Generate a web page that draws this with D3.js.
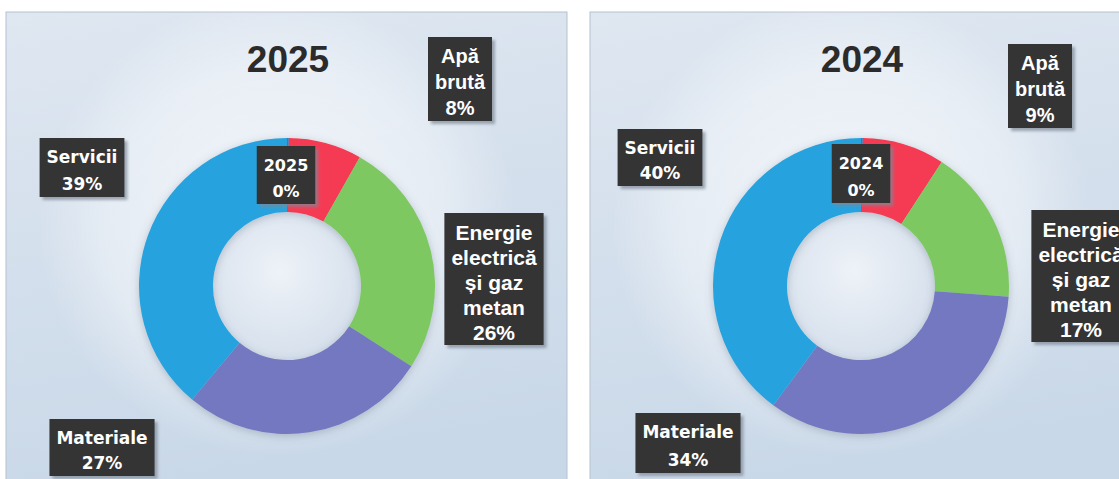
<!DOCTYPE html>
<html>
<head>
<meta charset="utf-8">
<script src="https://cdn.jsdelivr.net/npm/d3@7/dist/d3.min.js"></script>
<style>
  html, body { margin: 0; padding: 0; background: #ffffff; }
  svg { display: block; }
</style>
</head>
<body>
<svg id="chart" width="1119" height="479"></svg>
<script>
// ---------- DATA ----------
const years = ["2025", "2024"];
const categories = ["Apă brută", "Energie electrică și gaz metan", "Materiale", "Servicii"];
const categoryLines = [["Apă", "brută"], ["Energie", "electrică", "și gaz", "metan"], ["Materiale"], ["Servicii"]];
// first slice is the near-zero "year" slice shown as "0%"
const values2025 = [0.2, 8, 26, 27, 39];
const values2024 = [0.2, 9, 17, 34, 40];
const sliceColors = ["#2f7ebf", "#f53a52", "#7ec862", "#7378c0", "#26a3de"];

// ---------- LAYOUT (not data) ----------
const W = 1119, H = 479;
const panels = [
  { x: 6, y: 12, w: 561, h: 480, cx: 287, cy: 286, titleY: 72 },
  { x: 590, y: 12, w: 540, h: 480, cx: 861, cy: 286, titleY: 72 }
];
const R = 148, r = 74;
// label placement offsets relative to donut centre: [dx, firstLineDy, lineHeight]
const labelLayout = [
  [ [-1, -121, 26], [173, -230, 26], [207, -54, 25], [-185, 152, 25], [-205, -129, 27] ],
  [ [0, -123, 27], [179, -223, 26], [220, -57, 25], [-173, 146, 28], [-201, -138, 25] ]
];
const labelFont = [
  { fam: "'DejaVu Sans', Verdana, sans-serif", size: 16 },
  { fam: "'Liberation Sans', Arial, sans-serif", size: 20 },
  { fam: "'Liberation Sans', Arial, sans-serif", size: 21 },
  { fam: "'DejaVu Sans', Verdana, sans-serif", size: 17 },
  { fam: "'DejaVu Sans', Verdana, sans-serif", size: 17 }
];

const svg = d3.select("#chart");
const defs = svg.append("defs");

const bg = defs.append("linearGradient").attr("id", "panelBg")
  .attr("x1", 0).attr("y1", 0).attr("x2", 0.2).attr("y2", 1);
bg.append("stop").attr("offset", "0%").attr("stop-color", "#dfe7f1");
bg.append("stop").attr("offset", "100%").attr("stop-color", "#c9d8e8");

const glow = defs.append("radialGradient").attr("id", "glow")
  .attr("cx", 0.5).attr("cy", 0.5).attr("r", 0.5);
glow.append("stop").attr("offset", "0%").attr("stop-color", "#ffffff").attr("stop-opacity", 0.7);
glow.append("stop").attr("offset", "70%").attr("stop-color", "#ffffff").attr("stop-opacity", 0.4);
glow.append("stop").attr("offset", "100%").attr("stop-color", "#ffffff").attr("stop-opacity", 0);

const hole = defs.append("radialGradient").attr("id", "hole")
  .attr("cx", 0.45).attr("cy", 0.4).attr("r", 0.6);
hole.append("stop").attr("offset", "0%").attr("stop-color", "#eef2f8");
hole.append("stop").attr("offset", "100%").attr("stop-color", "#d6e0ec");

const ds = defs.append("filter").attr("id", "ringShadow")
  .attr("x", "-20%").attr("y", "-20%").attr("width", "140%").attr("height", "140%");
ds.append("feDropShadow").attr("dx", 0).attr("dy", 2).attr("stdDeviation", 4)
  .attr("flood-color", "#5a6778").attr("flood-opacity", 0.35);

const bs = defs.append("filter").attr("id", "boxShadow")
  .attr("x", "-20%").attr("y", "-20%").attr("width", "140%").attr("height", "140%");
bs.append("feGaussianBlur").attr("stdDeviation", 1.5);

const pie = d3.pie().sort(null).value(d => d);
const arc = d3.arc().innerRadius(r).outerRadius(R);
const allValues = [values2025, values2024];

panels.forEach((p, pi) => {
  const g = svg.append("g");
  g.append("rect").attr("x", p.x).attr("y", p.y).attr("width", p.w).attr("height", p.h)
    .attr("fill", "url(#panelBg)").attr("stroke", "#b5c1cf").attr("stroke-width", 1);
  g.append("ellipse").attr("cx", p.cx - 10).attr("cy", p.cy - 60)
    .attr("rx", 240).attr("ry", 230).attr("fill", "url(#glow)");

  g.append("text").attr("x", p.cx + 1).attr("y", p.titleY)
    .attr("text-anchor", "middle")
    .style("font-family", "'Liberation Sans', Arial, sans-serif")
    .style("font-weight", "bold").style("font-size", "37px")
    .attr("fill", "#2b2b2b").text(years[pi]);

  const vals = allValues[pi];
  const arcs = pie(vals);
  const dg = g.append("g").attr("transform", `translate(${p.cx},${p.cy})`);
  dg.append("circle").attr("r", r).attr("fill", "url(#hole)");
  dg.append("g").attr("filter", "url(#ringShadow)")
    .selectAll("path").data(arcs).join("path")
    .attr("d", arc).attr("fill", (d, i) => sliceColors[i]);

  // labels
  arcs.forEach((d, i) => {
    const [dx, dy, lh] = labelLayout[pi][i];
    const f = labelFont[i];
    const name = i === 0 ? [years[pi]] : categoryLines[i - 1];
    const lines = name.concat([Math.round(vals[i]) + "%"]);
    const lx = p.cx + dx, ly = p.cy + dy;
    const lg = g.append("g");
    const shadow = lg.append("rect");
    const box = lg.append("rect");
    const tg = lg.append("g");
    lines.forEach((t, k) => {
      tg.append("text").attr("x", lx).attr("y", ly + k * lh)
        .attr("text-anchor", "middle").attr("dominant-baseline", "central")
        .style("font-family", f.fam).style("font-weight", "bold")
        .style("font-size", f.size + "px").attr("fill", "#ffffff").text(t);
    });
    let mw = 0;
    tg.selectAll("text").each(function () { mw = Math.max(mw, this.getComputedTextLength()); });
    const bw = mw + 14;
    const top = ly - 19, bottom = ly + (lines.length - 1) * lh + 13;
    box.attr("x", lx - bw / 2).attr("y", top).attr("width", bw).attr("height", bottom - top)
      .attr("fill", "#343434");
    shadow.attr("x", lx - bw / 2 + 3).attr("y", top + 3).attr("width", bw).attr("height", bottom - top)
      .attr("fill", "#7d8794").attr("opacity", 0.7).attr("filter", "url(#boxShadow)");
  });
});
</script>
</body>
</html>
